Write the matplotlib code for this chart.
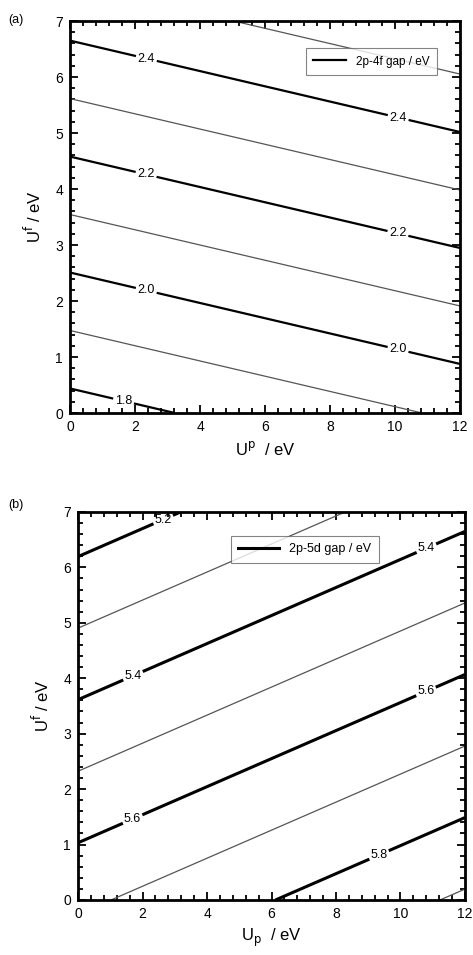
import numpy as np
import matplotlib
matplotlib.use("Agg")
import matplotlib.pyplot as plt
from matplotlib.ticker import MultipleLocator

plt.rcParams['font.family'] = ['Liberation Sans', 'DejaVu Sans']

# Panel (a): 2p-4f gap = A0 + A_UP*Up + A_UF*Uf
A0, A_UP, A_UF = 1.7576, 0.01314, 0.0966
levels_a_thick = [1.8, 2.0, 2.2, 2.4]
levels_a_thin = [1.9, 2.1, 2.3, 2.5]
labels_a_pos = [(1.65, 0.22), (2.35, 6.33), (10.1, 5.28), (2.35, 4.28), (10.1, 3.23), (2.35, 2.2), (10.1, 1.15)]

# Panel (b): 2p-5d gap = B0 + B_UP*Up + B_UF*Uf
B0, B_UP, B_UF = 5.68, 0.0196, -0.0775
levels_b_thick = [5.2, 5.4, 5.6, 5.8]
levels_b_thin = [5.3, 5.5, 5.7, 5.9]
labels_b_pos = [(2.65, 6.85), (1.7, 4.05), (10.8, 6.35), (1.7, 1.45), (10.8, 3.75), (9.36, 0.78)]

xticks = [0, 2, 4, 6, 8, 10, 12]
yticks = [0, 1, 2, 3, 4, 5, 6, 7]

fig = plt.figure(figsize=(4.73, 9.55), dpi=100)

up = np.linspace(0, 12, 241)
uf = np.linspace(0, 7, 141)
X, Y = np.meshgrid(up, uf)

def style(ax, xlabel, ylabel):
    ax.set_xlim(0, 12)
    ax.set_ylim(0, 7)
    ax.set_xticks(xticks)
    ax.set_yticks(yticks)
    ax.xaxis.set_minor_locator(MultipleLocator(0.4))
    ax.yaxis.set_minor_locator(MultipleLocator(0.2))
    ax.tick_params(which='both', direction='in', top=True, right=True, labelsize=10, width=1.3)
    ax.tick_params(which='major', length=6, pad=5)
    ax.tick_params(which='minor', length=3.5)
    for s in ax.spines.values():
        s.set_linewidth(2.0)
    ax.set_xlabel(xlabel, fontsize=12, labelpad=4)
    ax.set_ylabel(ylabel, fontsize=12, labelpad=8)

def flat_labels(texts):
    for t in texts:
        t.set_rotation(0)
        t.set_clip_on(False)

# (a)
ax1 = fig.add_axes([0.148, 0.5675, 0.8245, 0.4105])
Za = A0 + A_UP * X + A_UF * Y
ax1.contour(X, Y, Za, levels=levels_a_thin, colors='#555555', linewidths=0.9)
cs1 = ax1.contour(X, Y, Za, levels=levels_a_thick, colors='black', linewidths=1.6)
t1 = ax1.clabel(cs1, fmt='%.1f', fontsize=9, inline=True, inline_spacing=2, manual=labels_a_pos)
flat_labels(t1)
ax1.plot([], [], color='black', lw=1.6, label='2p-4f gap / eV')
leg1 = ax1.legend(loc='upper right', bbox_to_anchor=(0.955, 0.945), fontsize=8.5, frameon=True,
                  fancybox=False, edgecolor='#666666', handlelength=2.8, borderpad=0.6)
leg1.get_frame().set_linewidth(0.8)
style(ax1, r'U$^{\mathrm{p}}$  / eV', r'U$^{\mathrm{f}}$ / eV')
fig.text(0.018, 0.985, '(a)', fontsize=9, ha='left', va='top')

# (b)
ax2 = fig.add_axes([0.165, 0.0576, 0.818, 0.4064])
Zb = B0 + B_UP * X + B_UF * Y
ax2.contour(X, Y, Zb, levels=levels_b_thin, colors='#555555', linewidths=0.9)
cs2 = ax2.contour(X, Y, Zb, levels=levels_b_thick, colors='black', linewidths=2.2)
t2 = ax2.clabel(cs2, fmt='%.1f', fontsize=9, inline=True, inline_spacing=2, manual=labels_b_pos)
flat_labels(t2)
ax2.plot([], [], color='black', lw=2.2, label='2p-5d gap / eV')
leg2 = ax2.legend(loc='upper left', bbox_to_anchor=(0.378, 0.955), fontsize=9, frameon=True,
                  fancybox=False, edgecolor='#666666', handlelength=3.3, borderpad=0.6)
leg2.get_frame().set_linewidth(0.8)
style(ax2, r'U$_{\mathrm{p}}$  / eV', r'U$^{\mathrm{f}}$ / eV')
fig.text(0.018, 0.478, '(b)', fontsize=9, ha='left', va='top')

fig.savefig('out.png', dpi=100)
